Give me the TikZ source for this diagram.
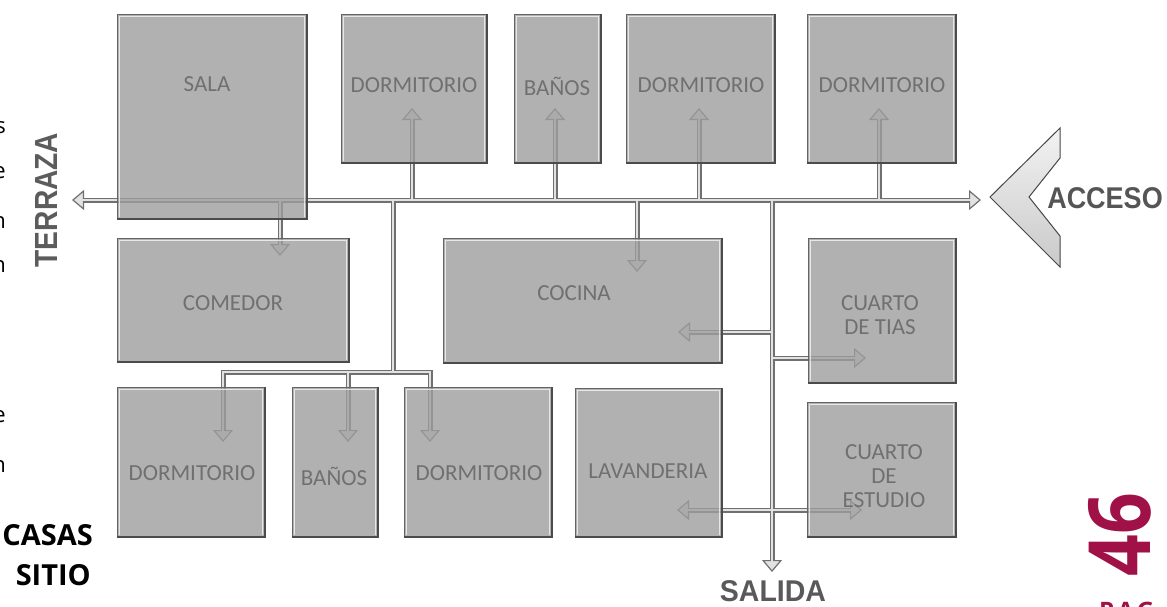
\documentclass[tikz,border=0pt]{standalone}
\usepackage{fontspec}
\setmainfont{Carlito}
\newfontfamily\roomfont{Carlito}
\newfontfamily\signfont{Liberation Sans}
\newfontfamily\pagefont{Open Sans}
\usetikzlibrary{arrows.meta}
\definecolor{boxfill}{RGB}{158,158,158}
\definecolor{boxedge}{RGB}{100,100,100}
\definecolor{pipeedge}{RGB}{112,112,112}
\definecolor{pipefill}{RGB}{226,226,226}
\definecolor{roomtext}{RGB}{112,112,112}
\definecolor{signtext}{RGB}{85,85,85}
\definecolor{pagered}{RGB}{160,17,72}
\newcommand\pipenet[3]{%
  \draw[#1,#3] (tw) -- (te);
  \draw[#1,#2] (jA) -- (tA);
  \draw[#1,#2] (jB) -- (tB);
  \draw[#1,#2] (jC) -- (tC);
  \draw[#1,#2] (jD) -- (tD);
  \draw[#1,#2] (jS) -- (tS);
  \draw[#1,#2] (jK) -- (tK);
  \draw[#1] (jL) -- (kL);
  \draw[#1] (b1) -- (b3);
  \draw[#1,#2] (b1) -- (tE1);
  \draw[#1,#2] (b2) -- (tE2);
  \draw[#1,#2] (b3) -- (tE3);
  \draw[#1,#2] (jM) -- (tSal);
  \draw[#1,#2] (m1) -- (tK2);
  \draw[#1,#2] (m2) -- (tT);
  \draw[#1,#2] (m3) -- (tLv);
  \draw[#1,#2] (m3) -- (tEs);
}
\begin{document}
\begin{tikzpicture}[x=1pt,y=-1pt,
  pipeO/.style={draw=pipeedge, line width=5pt, line cap=rect},
  pipeI/.style={draw=pipefill, line width=2.4pt, line cap=rect},
  tipO/.style={-{Triangle[length=12pt,width=20pt,fill=pipefill,line width=1.2pt]}},
  tipsO/.style={{Triangle[length=12pt,width=20pt,fill=pipefill,line width=1.2pt]}-{Triangle[length=12pt,width=20pt,fill=pipefill,line width=1.2pt]}},
  tipI/.style={shorten >=10pt},
  tipsI/.style={shorten >=10pt, shorten <=10pt},
  room/.style={draw=boxedge, line width=1pt, fill=boxfill, fill opacity=0.8, inner sep=0pt, outer sep=0pt, anchor=north west},
  roomlabel/.style={font=\roomfont\fontsize{23}{24}\selectfont, text=roomtext, align=center, inner sep=0pt},
  sign/.style={font=\signfont\bfseries, text=signtext, inner sep=0pt},
  edgeshade/.style={draw=boxedge!75!black, line width=2.2pt},
  highlight/.style={draw=white, line width=1.6pt, opacity=0.7}
]
\useasboundingbox (0,0) rectangle (1167,606);
\clip (0,0) rectangle (1167,606);

% ---------- junctions and tips ----------
\coordinate (tw) at (72,200);   \coordinate (te) at (981,200);
\coordinate (jA) at (412,200);  \coordinate (tA) at (412,108);
\coordinate (jB) at (555,200);  \coordinate (tB) at (555,108);
\coordinate (jC) at (699,200);  \coordinate (tC) at (699,108);
\coordinate (jD) at (879,200);  \coordinate (tD) at (879,108);
\coordinate (jS) at (280,200);  \coordinate (tS) at (280,256);
\coordinate (jK) at (637,200);  \coordinate (tK) at (637,272);
\coordinate (jL) at (393,200);  \coordinate (kL) at (393,372);
\coordinate (b1) at (223,372);  \coordinate (b2) at (348,372);  \coordinate (b3) at (430,372);
\coordinate (tE1) at (223,442); \coordinate (tE2) at (348,442); \coordinate (tE3) at (430,442);
\coordinate (jM) at (772,200);  \coordinate (tSal) at (772,572);
\coordinate (m1) at (772,332);  \coordinate (tK2) at (678,332);
\coordinate (m2) at (772,358);  \coordinate (tT) at (866,358);
\coordinate (m3) at (772,510);  \coordinate (tLv) at (677,510);  \coordinate (tEs) at (862,510);

% ---------- circulation pipes ----------
\pipenet{pipeO}{tipO}{tipsO}
\pipenet{pipeI}{tipI}{tipsI}

% ---------- rooms ----------
\node[room, minimum width=190, minimum height=205] (sala) at (117,14) {};
\node[room, minimum width=146, minimum height=149] (dormA) at (341,14) {};
\node[room, minimum width=87,  minimum height=149] (banA) at (514,14) {};
\node[room, minimum width=149, minimum height=149] (dormB) at (626,14) {};
\node[room, minimum width=149, minimum height=149] (dormC) at (807,14) {};
\node[room, minimum width=232, minimum height=124] (comedor) at (117,238) {};
\node[room, minimum width=279, minimum height=125] (cocina) at (443,238) {};
\node[room, minimum width=148, minimum height=145] (tias) at (808,238) {};
\node[room, minimum width=149, minimum height=135] (estudio) at (807,402) {};
\node[room, minimum width=147, minimum height=149] (lavan) at (575,388) {};
\node[room, minimum width=148, minimum height=150] (dormD) at (117,387) {};
\node[room, minimum width=86,  minimum height=150] (banB) at (292,387) {};
\node[room, minimum width=148, minimum height=150] (dormE) at (404,387) {};

\foreach \r in {sala,dormA,banA,dormB,dormC,comedor,cocina,tias,estudio,lavan,dormD,banB,dormE}{
  \draw[highlight] ([shift={(2.5,-2)}]\r.south west) -- ([shift={(2.5,2.5)}]\r.north west)
        -- ([shift={(-2.5,2.5)}]\r.north east) -- ([shift={(-2.5,-2)}]\r.south east);
  \draw[edgeshade] (\r.south west) -- (\r.south east) -- (\r.north east);
}

% ---------- room labels ----------
\node[roomlabel, anchor=base] (lsala) at (207,91) {SALA};
\node[roomlabel, anchor=base] (ldormA) at (414,92) {DORMITORIO};
\node[roomlabel, anchor=base] (lbanA) at (557,95) {BAÑOS};
\node[roomlabel, anchor=base] (ldormB) at (701,92) {DORMITORIO};
\node[roomlabel, anchor=base] (ldormC) at (882,92) {DORMITORIO};
\node[roomlabel, anchor=base] (lcomedor) at (233,310) {COMEDOR};
\node[roomlabel, anchor=base] (lcocina) at (574,300) {COCINA};
\node[roomlabel] (ltias) at (880,315) {CUARTO\\DE TIAS};
\node[roomlabel] (lestudio) at (884,476) {CUARTO\\DE\\ESTUDIO};
\node[roomlabel, anchor=base] (llavan) at (648,478) {LAVANDERIA};
\node[roomlabel, anchor=base] (ldormD) at (192,480) {DORMITORIO};
\node[roomlabel, anchor=base] (lbanB) at (334,485) {BAÑOS};
\node[roomlabel, anchor=base] (ldormE) at (479,480) {DORMITORIO};

% ---------- access chevron ----------
\draw[draw=gray!55!black, line width=1pt, top color=gray!10, bottom color=gray!42]
  (990,197) -- (1060,128) -- (1060,158) -- (1029,197) -- (1060,236) -- (1060,267) -- cycle;

% ---------- signs ----------
\node[sign, font=\signfont\bfseries\fontsize{30}{30}\selectfont, text=signtext] (acceso) at (1105,198) {\scalebox{0.9}[1]{ACCESO}};
\node[sign, font=\signfont\bfseries\fontsize{32}{32}\selectfont, text=gray!72!black, rotate=90] (terraza) at (46,200) {\scalebox{0.88}[1]{TERRAZA}};
\node[sign, font=\signfont\bfseries\fontsize{30}{30}\selectfont, text=gray!70!black] (salida) at (773,591) {\scalebox{0.95}[1]{SALIDA}};

% ---------- page texts ----------
\node[font=\pagefont\bfseries\fontsize{29}{29}\selectfont, anchor=base east, inner sep=0pt] (casas) at (93,545) {CASAS};
\node[font=\pagefont\bfseries\fontsize{29}{29}\selectfont, anchor=base east, inner sep=0pt] (sitio) at (91,585) {SITIO};
\node[font=\pagefont\bfseries\fontsize{86}{86}\selectfont, text=pagered, rotate=90, inner sep=0pt] (pagnum) at (1120,535) {\scalebox{0.85}[1]{46}};
\node[font=\pagefont\bfseries\fontsize{24}{24}\selectfont, text=pagered, anchor=north west, inner sep=0pt] (pag) at (1099,602) {P\hspace{3pt}A\hspace{3pt}G};

% ---------- cut-off text at the left edge ----------
\foreach \t/\yy [count=\i] in {s/133, e/178, n/228, n/272, e/422, n/472}{
  \node[font=\pagefont\fontsize{22}{22}\selectfont, anchor=base east, inner sep=0pt] (edge\i) at (6,\yy) {\t};
}
\end{tikzpicture}
\end{document}
